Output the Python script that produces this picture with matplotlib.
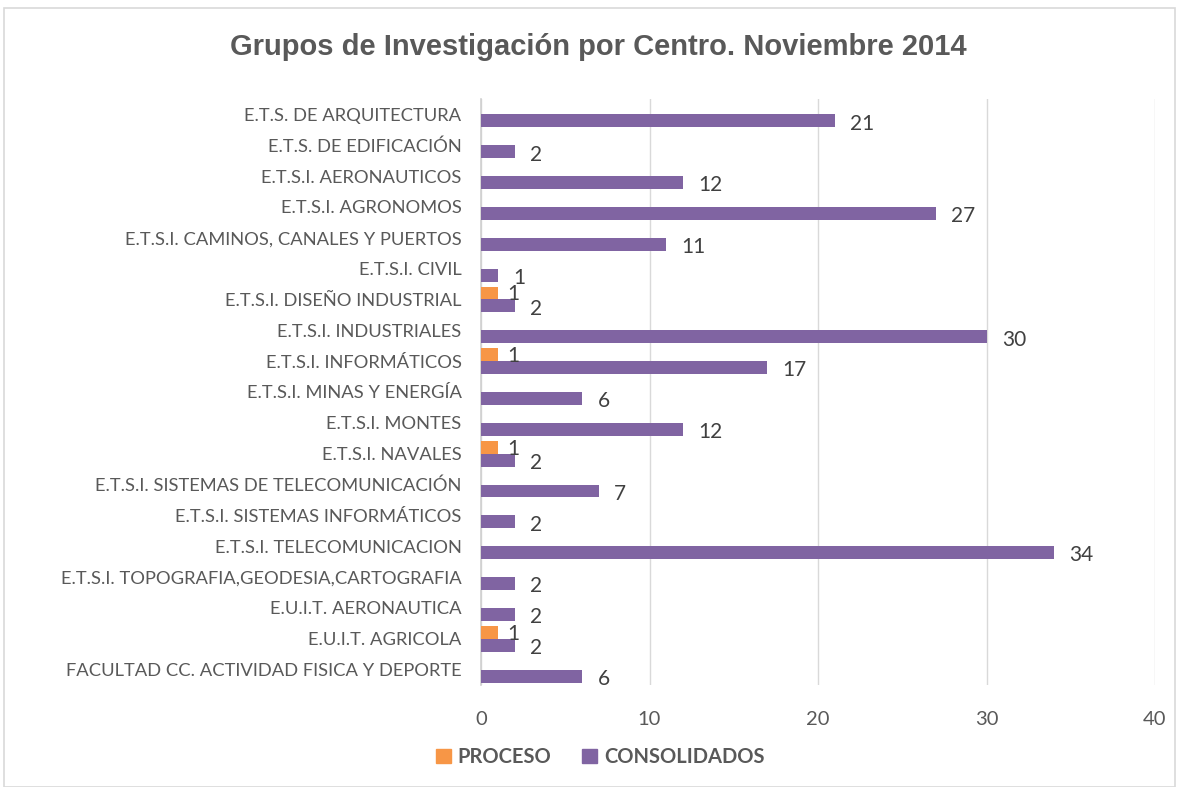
import matplotlib

matplotlib.use("Agg")
import matplotlib.pyplot as plt
from matplotlib.patches import Patch, Rectangle

centros = [
    "E.T.S. DE ARQUITECTURA",
    "E.T.S. DE EDIFICACIÓN",
    "E.T.S.I. AERONAUTICOS",
    "E.T.S.I. AGRONOMOS",
    "E.T.S.I. CAMINOS, CANALES Y PUERTOS",
    "E.T.S.I. CIVIL",
    "E.T.S.I. DISEÑO INDUSTRIAL",
    "E.T.S.I. INDUSTRIALES",
    "E.T.S.I. INFORMÁTICOS",
    "E.T.S.I. MINAS Y ENERGÍA",
    "E.T.S.I. MONTES",
    "E.T.S.I. NAVALES",
    "E.T.S.I. SISTEMAS DE TELECOMUNICACIÓN",
    "E.T.S.I. SISTEMAS INFORMÁTICOS",
    "E.T.S.I. TELECOMUNICACION",
    "E.T.S.I. TOPOGRAFIA,GEODESIA,CARTOGRAFIA",
    "E.U.I.T. AERONAUTICA",
    "E.U.I.T. AGRICOLA",
    "FACULTAD CC. ACTIVIDAD FISICA Y DEPORTE",
]
proceso = [0, 0, 0, 0, 0, 0, 1, 0, 1, 0, 0, 1, 0, 0, 0, 0, 0, 1, 0]
consolidados = [21, 2, 12, 27, 11, 1, 2, 30, 17, 6, 12, 2, 7, 2, 34, 2, 2, 2, 6]
x_ticks = [0, 10, 20, 30, 40]

ORANGE = "#f79646"
PURPLE = "#8064a2"
TEXT = "#595959"
GRID = "#d9d9d9"
FONT = ["Lato", "DejaVu Sans"]

fig = plt.figure(figsize=(11.79, 7.87), dpi=100)
ax = fig.add_axes([481 / 1179, 1 - 685 / 787, (1155 - 481) / 1179, 586 / 787])

pos = list(range(len(centros)))
h = 0.42
ax.barh([p - h / 2 for p in pos], proceso, height=h, color=ORANGE, zorder=3)
ax.barh([p + h / 2 for p in pos], consolidados, height=h, color=PURPLE, zorder=3)

for p, v in zip(pos, proceso):
    if v:
        ax.annotate(str(v), (v, p - h / 2), xytext=(7, -1), textcoords="offset points",
                    va="center", ha="left", fontsize=15, color="#404040", family=FONT)
for p, v in zip(pos, consolidados):
    ax.annotate(str(v), (v, p + h / 2), xytext=(11, -2), textcoords="offset points",
                va="center", ha="left", fontsize=15, color="#404040", family=FONT)

ax.set_xlim(0, 40)
ax.set_ylim(len(centros) - 0.5, -0.5)
ax.set_xticks(x_ticks)
ax.set_xticklabels([str(t) for t in x_ticks], fontsize=14.5, color=TEXT, family=FONT)
ax.set_yticks(pos)
ax.set_yticklabels(centros, fontsize=13.2, color=TEXT, family=FONT)
ax.tick_params(axis="both", length=0)
ax.tick_params(axis="x", pad=19)
ax.tick_params(axis="y", pad=14)
ax.grid(axis="x", color=GRID, linewidth=1, zorder=0)
for side in ["top", "right", "bottom"]:
    ax.spines[side].set_visible(False)
ax.spines["left"].set_color("#d0d0d0")
ax.spines["left"].set_linewidth(1.2)

fig.text(598 / 1179, 1 - 47 / 787, "Grupos de Investigación por Centro. Noviembre 2014",
         ha="center", va="center", fontsize=21, fontweight="bold", color=TEXT,
         family=["Liberation Sans", "DejaVu Sans"])

handles = [Patch(color=ORANGE, label="PROCESO"), Patch(color=PURPLE, label="CONSOLIDADOS")]
leg = fig.legend(handles=handles, loc="center", bbox_to_anchor=(600 / 1179, 1 - 757 / 787),
                 ncol=2, frameon=False, handlelength=0.75, handleheight=0.75,
                 handletextpad=0.35, columnspacing=1.5,
                 prop={"family": FONT, "size": 14.5, "weight": "bold"})
for t in leg.get_texts():
    t.set_color(TEXT)

fig.patches.append(Rectangle((4 / 1179, 0), 1171 / 1179, 1 - 8 / 787, transform=fig.transFigure,
                             fill=False, edgecolor=GRID, linewidth=1.2))

fig.savefig("out.png", dpi=100)
